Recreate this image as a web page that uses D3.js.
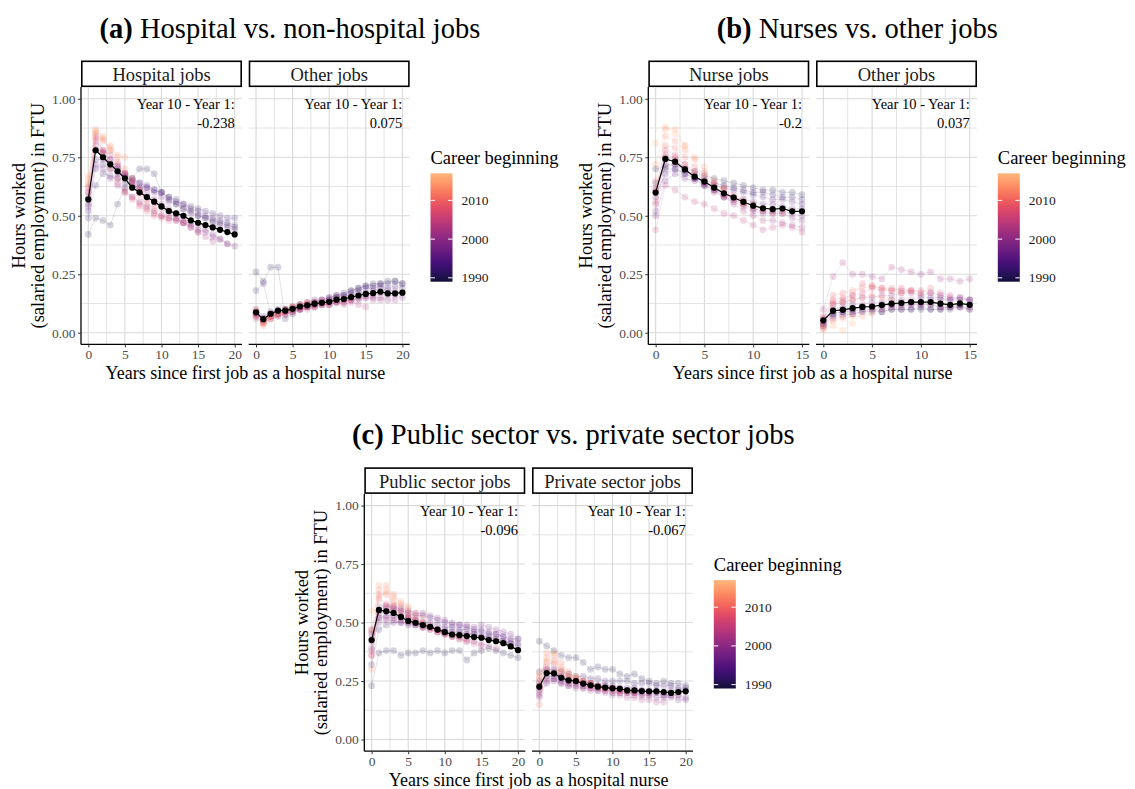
<!DOCTYPE html>
<html><head><meta charset="utf-8">
<script src="https://cdn.jsdelivr.net/npm/d3@7"></script>
<style>
body{margin:0;background:#fff}
svg{display:block}
text{font-family:"Liberation Serif","Times New Roman",serif}
</style>
</head><body><svg id="chart" width="1135" height="789"></svg>
<script>
// ---------------- DATA (hours worked in hundredths of FTU) ----------------
const cohortYears = [1990,1992,1994,1996,1998,2000,2002,2004,2006,2008,2010,2012,2014,2016];
const legendTicks = [1990,2000,2010];

// (a) Hospital vs non-hospital
const hospitalCohorts = [
 [42,49,48,46,55,62,66,70,70,68,60,57,55,53,52,50,49,48,47,46,45],
 [49,63,68,67,66,64,63,62,62,61,60,58,57,55,54,53,52,51,50,49,49],
 [52,70,72,70,68,67,65,64,63,61,60,58,56,55,53,52,50,49,48,47,46],
 [55,74,74,72,70,68,66,64,62,60,58,56,55,53,51,50,49,47,46,45,44],
 [54,72,70,66,63,60,58,56,54,52,50,49,48,47,46,44,43,41,40,38,37],
 [58,78,77,74,71,68,65,62,60,57,55,53,51,49,47,46,44,42,40,38],
 [60,80,77,74,71,67,64,61,58,56,54,52,49,47,45,43,41,39],
 [57,82,78,76,72,68,64,60,57,55,53,51,49,47,45,43],
 [62,84,78,72,66,61,58,55,53,51,50,49,48,47],
 [60,83,77,70,64,60,57,54,52,50,49,48],
 [63,85,82,78,73,68,63,59,55,53],
 [64,86,83,79,75,70,66,61],
 [66,87,84,80,76,75],
 [67,86,83,78]
];
const hospitalMean = [57,78,75,72,69,66,62,60,58,56,54,52,51,50,48,47,46,45,44,43,42];
const nonHospitalCohorts = [
 [26,22,28,28,6,8,10,11,12,13,14,15,16,18,19,20,21,21,22,22,21],
 [18,21,8,9,10,11,12,12,13,14,15,16,17,18,19,20,20,21,21,22,21],
 [10,7,9,10,10,11,12,13,14,14,15,16,16,17,18,19,19,20,19,20,19],
 [8,6,8,9,10,10,11,12,13,13,14,15,15,16,17,17,18,19,18,18,17],
 [9,6,7,8,9,10,11,12,12,13,13,14,14,15,15,16,16,17,16,16,15],
 [8,5,7,8,8,9,10,11,11,12,12,13,13,14,14,15,15,15,14,14],
 [7,5,7,8,9,10,10,11,12,12,13,13,14,14,15,15,14,14],
 [6,4,6,7,8,9,10,11,11,12,12,13,12,13,12,11],
 [7,4,6,7,8,9,10,10,11,12,12,13,13,14],
 [8,5,7,8,9,10,11,12,13,13,14,15],
 [9,5,7,9,10,11,12,13,13,14],
 [8,3,6,8,9,11,12,13],
 [9,4,7,9,10,11],
 [10,5,8,9]
];
const nonHospitalMean = [8.7,5.8,8.1,9.4,9.4,10.2,11.2,11.7,12.4,12.8,13.2,14.1,14.4,15.2,15.9,16.6,16.9,17.5,16.8,16.8,17.1];

// (b) Nurses vs other jobs
const nurseCohorts = [
 [70,71,72,70,69,67,66,65,64,63,62,61,61,60,60,59],
 [64,70,70,68,66,65,64,63,62,61,60,60,59,58,58,57],
 [58,68,70,68,66,64,63,62,61,60,59,58,57,57,56,55],
 [50,65,68,66,65,63,61,59,58,57,56,55,55,54,53,53],
 [52,72,72,69,66,63,61,58,57,55,53,52,52,52,51,50],
 [61,75,74,70,66,63,60,58,56,54,52,51,51,51,49,48],
 [55,74,73,70,67,64,61,58,55,52,50,48,48,47,46,45],
 [44,63,61,58,56,55,53,51,50,48,46,44,45,46,45,43],
 [62,78,76,72,68,65,62,59,57,55,53,52,51,51],
 [56,76,75,72,69,66,63,61,59,57,55,53],
 [60,80,79,75,71,68,64,61,58,55],
 [65,84,82,78,74,69,65,62],
 [72,87,87,80,75,71],
 [81,88,85,80]
];
const nurseMean = [59.9,74.3,73.1,69.8,66.7,64.6,62.0,59.6,57.8,55.9,54.3,53.2,52.8,53.1,51.9,51.9];
const otherNurseCohorts = [
 [4,8,9,9,10,10,9,10,10,10,10,10,10,10,11,10],
 [3,7,8,8,9,9,9,10,10,10,11,10,10,11,11,11],
 [5,9,10,10,11,11,12,12,12,12,12,12,11,11,12,12],
 [3,8,9,10,11,11,11,12,13,13,13,14,14,14,14,14],
 [4,10,11,12,12,13,13,14,14,14,15,15,15,14,15,14],
 [6,12,13,14,15,15,16,16,17,17,16,17,16,15,15,14],
 [10,24,30,25,25,24,23,28,27,26,25,26,23,23,22,23],
 [2,6,7,8,9,10,10,11,11,12,12,12,11,11,11,10],
 [7,13,14,16,17,19,18,18,19,18,18,17,17,16],
 [4,14,15,16,21,20,19,19,18,18,17,19],
 [6,16,17,18,19,20,19,18,17,18],
 [3,12,13,14,15,16,15,14],
 [2,5,6,7,7,8],
 [1,3,1,4]
];
const otherNurseMean = [5.3,9.4,9.8,10.5,11.0,11.2,11.8,12.4,12.7,13.1,13.1,13.1,12.4,11.9,12.5,11.9];

// (c) Public vs private sector
const publicCohorts = [
 [23,37,38,38,36,37,37,38,37,38,37,38,38,34,37,38,39,38,37,36,35],
 [32,47,49,50,50,49,49,48,48,47,47,46,46,45,45,44,44,43,42,41,40],
 [45,52,53,53,52,52,51,50,50,49,48,48,47,47,46,46,45,45,44,43,43],
 [39,54,55,56,55,54,53,53,52,51,50,49,49,48,47,47,46,45,44,42,41],
 [47,55,57,57,56,55,54,54,53,52,51,50,49,49,48,49,48,47,46,45,43],
 [42,50,51,51,50,50,49,49,48,47,46,46,45,45,45,44,43,43,42,41],
 [36,52,52,52,51,50,49,48,47,46,45,44,44,43,42,41,40,39],
 [43,57,57,56,54,52,51,50,48,46,45,44,43,42,41,40],
 [38,55,56,55,53,52,50,48,47,46,45,44,43,42],
 [46,60,58,57,55,53,51,49,48,47,46,45],
 [36,62,62,59,57,54,52,50,49,47],
 [30,64,66,62,58,56,54,52],
 [47,66,64,61,59,57],
 [55,61,63,58]
];
const publicMean = [42.5,55.4,54.8,54.1,52.4,50.7,49.9,48.9,48.2,47.0,45.9,44.9,44.6,44.2,43.8,43.5,42.5,42.0,41.2,39.8,38.2];
const privateCohorts = [
 [42,40,38,36,35,35,33,30,31,30,30,28,27,28,26,25,24,25,24,24,23],
 [29,30,30,29,28,27,27,26,26,25,25,25,25,24,24,24,23,23,23,22,22],
 [25,27,27,26,25,25,24,24,23,23,23,22,22,22,21,21,21,20,21,21,21],
 [19,24,25,24,23,23,22,22,21,21,20,20,20,20,19,19,18,18,18,17,17],
 [21,26,26,25,24,24,23,23,22,22,22,21,21,20,20,20,20,19,19,19,18],
 [22,29,28,27,26,25,25,24,23,23,22,22,21,21,21,20,20,19,19,19],
 [18,25,26,24,23,22,22,21,21,20,19,19,18,18,17,17,16,16],
 [24,30,29,27,25,25,24,23,22,22,21,21,20,20,19,19],
 [20,28,29,27,25,24,23,22,22,21,21,20,20,19],
 [27,33,32,29,27,26,25,24,23,22,22,21],
 [15,31,34,30,27,26,25,24,23,22],
 [23,37,37,33,29,27,25,24],
 [26,35,36,31,28,26],
 [28,34,33,29]
];
const privateMean = [22.6,28.4,28.3,26.4,25.3,25.0,23.9,23.2,22.6,22.2,21.9,21.7,21.0,21.0,20.7,20.6,20.6,20.3,19.9,20.3,20.6];

const yTicks = [0,0.25,0.5,0.75,1];
const yTickLabels = ["0.00","0.25","0.50","0.75","1.00"];

// ---------------- LAYOUT ----------------
const figures = [
 {ox:81, oy:60.5, bold:"(a)", title:" Hospital vs. non-hospital jobs", xMax:20, xTicks:[0,5,10,15,20],
  facets:[{label:"Hospital jobs", cohorts:hospitalCohorts, mean:hospitalMean, diff:"-0.238"},
          {label:"Other jobs", cohorts:nonHospitalCohorts, mean:nonHospitalMean, diff:"0.075"}]},
 {ox:648.3, oy:60.5, bold:"(b)", title:" Nurses vs. other jobs", xMax:15, xTicks:[0,5,10,15],
  facets:[{label:"Nurse jobs", cohorts:nurseCohorts, mean:nurseMean, diff:"-0.2"},
          {label:"Other jobs", cohorts:otherNurseCohorts, mean:otherNurseMean, diff:"0.037"}]},
 {ox:364.3, oy:467.3, bold:"(c)", title:" Public sector vs. private sector jobs", xMax:20, xTicks:[0,5,10,15,20],
  facets:[{label:"Public sector jobs", cohorts:publicCohorts, mean:publicMean, diff:"-0.096"},
          {label:"Private sector jobs", cohorts:privateCohorts, mean:privateMean, diff:"-0.067"}]}
];

const svg = d3.select("#chart");
const color = d3.scaleSequential(t => d3.interpolateMagma(0.1 + 0.75*t)).domain([1989, 2017]);

const FW = 161, GAP = 6.7, STRIP = 26.6, PH = 257.3;
const gridCol = "#d9d9d9";

// gradient for legend
const defs = svg.append("defs");
const grad = defs.append("linearGradient").attr("id","magmaGrad").attr("x1",0).attr("y1",1).attr("x2",0).attr("y2",0);
d3.range(0,1.0001,0.05).forEach(t => grad.append("stop").attr("offset",t).attr("stop-color", color(1989 + 28*t)));

figures.forEach(fig => {
  const g = svg.append("g").attr("transform",`translate(${fig.ox},${fig.oy})`);
  const x = d3.scaleLinear().domain([-fig.xMax*0.05, fig.xMax*1.05]).range([0, FW]);
  const y = d3.scaleLinear().domain([-0.05, 1.05]).range([PH, 0]);
  const xMinor = fig.xTicks.slice(0,-1).map(v => v + 2.5);
  const yMinor = [0.125,0.375,0.625,0.875];

  // title
  const tt = g.append("text").attr("x", 209).attr("y", -23).attr("text-anchor","middle")
    .attr("font-size", 28.5).attr("fill","#000");
  tt.append("tspan").attr("font-weight","bold").text(fig.bold);
  tt.append("tspan").text(fig.title);

  fig.facets.forEach((f, i) => {
    const fx = i * (FW + GAP);
    const fg = g.append("g").attr("transform", `translate(${fx},0)`);
    // strip
    fg.append("rect").attr("x",0.8).attr("y",0.8).attr("width",FW-1.6).attr("height",STRIP-1.6)
      .attr("fill","#fff").attr("stroke","#000").attr("stroke-width",1.6);
    fg.append("text").attr("x",FW/2).attr("y",STRIP/2+1).attr("text-anchor","middle")
      .attr("dominant-baseline","central").attr("font-size",18.5).attr("fill","#1a1a1a").text(f.label);

    const pg = fg.append("g").attr("transform",`translate(0,${STRIP})`);
    // grid
    pg.selectAll(".gyn").data(yMinor).join("line").attr("x1",0).attr("x2",FW)
      .attr("y1",d=>y(d)).attr("y2",d=>y(d)).attr("stroke",gridCol).attr("stroke-width",0.7);
    pg.selectAll(".gxn").data(xMinor).join("line").attr("y1",0).attr("y2",PH)
      .attr("x1",d=>x(d)).attr("x2",d=>x(d)).attr("stroke",gridCol).attr("stroke-width",0.7);
    pg.selectAll(".gy").data(yTicks).join("line").attr("x1",0).attr("x2",FW)
      .attr("y1",d=>y(d)).attr("y2",d=>y(d)).attr("stroke",gridCol).attr("stroke-width",1.1);
    pg.selectAll(".gx").data(fig.xTicks).join("line").attr("y1",0).attr("y2",PH)
      .attr("x1",d=>x(d)).attr("x2",d=>x(d)).attr("stroke",gridCol).attr("stroke-width",1.1);

    // cohorts
    const line = d3.line().x((d,j)=>x(j)).y(d=>y(d/100));
    f.cohorts.forEach((vals, ci) => {
      const v = vals.slice(0, fig.xMax+1);
      const c = color(cohortYears[ci]);
      pg.append("path").attr("d", line(v)).attr("fill","none").attr("stroke",c)
        .attr("stroke-opacity",0.18).attr("stroke-width",0.7);
      pg.selectAll(null).data(v).join("circle").attr("cx",(d,j)=>x(j)).attr("cy",d=>y(d/100))
        .attr("r",3.4).attr("fill",c).attr("fill-opacity",0.18);
    });
    // mean
    pg.append("path").attr("d", line(f.mean)).attr("fill","none").attr("stroke","#000").attr("stroke-width",1.2);
    pg.selectAll(null).data(f.mean).join("circle").attr("cx",(d,j)=>x(j)).attr("cy",d=>y(d/100))
      .attr("r",3.1).attr("fill","#000");

    // annotation
    pg.append("text").attr("x",x(fig.xMax)).attr("y",17).attr("text-anchor","end")
      .attr("dominant-baseline","central").attr("font-size",14.5).attr("fill","#000").text("Year 10 - Year 1:");
    pg.append("text").attr("x",x(fig.xMax)).attr("y",36).attr("text-anchor","end")
      .attr("dominant-baseline","central").attr("font-size",14.5).attr("fill","#000").text(f.diff);

    // x axis
    const xa = pg.append("g").attr("transform",`translate(0,${PH})`)
      .call(d3.axisBottom(x).tickValues(fig.xTicks).tickSize(3).tickSizeOuter(0).tickPadding(2));
    xa.select(".domain").attr("stroke","#000").attr("stroke-width",1.3).attr("d",`M0,0H${FW}`);
    xa.selectAll(".tick line").attr("stroke","#333");
    xa.selectAll(".tick text").attr("font-family","Liberation Serif").attr("font-size",13.5).attr("fill","#4d4d4d");

    if (i === 0) {
      const ya = pg.append("g").call(d3.axisLeft(y).tickValues(yTicks).tickFormat((d,k)=>yTickLabels[k])
        .tickSize(3).tickSizeOuter(0).tickPadding(2.5));
      ya.select(".domain").attr("stroke","#000").attr("stroke-width",1.3).attr("d",`M0,0V${PH}`);
      ya.selectAll(".tick line").attr("stroke","#333");
      ya.selectAll(".tick text").attr("font-family","Liberation Serif").attr("font-size",13.5).attr("fill","#4d4d4d");
    }
  });

  // axis titles
  const totalW = 2*FW + GAP;
  g.append("text").attr("x", totalW/2).attr("y", STRIP+PH+28.5).attr("text-anchor","middle")
    .attr("dominant-baseline","central").attr("font-size",18).attr("fill","#000")
    .text("Years since first job as a hospital nurse");
  const cy = STRIP + PH/2;
  g.append("text").attr("transform",`translate(-62.5,${cy}) rotate(-90)`).attr("text-anchor","middle")
    .attr("dominant-baseline","central").attr("font-size",18.5).attr("fill","#000").text("Hours worked");
  g.append("text").attr("transform",`translate(-43,${cy}) rotate(-90)`).attr("text-anchor","middle")
    .attr("dominant-baseline","central").attr("font-size",18.5).attr("fill","#000").text("(salaried employment) in FTU");

  // legend
  const lg = g.append("g").attr("transform",`translate(349.5,0)`);
  lg.append("text").attr("x",0).attr("y",97.5).attr("dominant-baseline","central")
    .attr("font-size",18.5).attr("fill","#000").text("Career beginning");
  const barTop = 112.8, barH = 108.4, barW = 22;
  const ly = d3.scaleLinear().domain([1989,2017]).range([barTop+barH, barTop]);
  lg.append("rect").attr("x",0).attr("y",barTop).attr("width",barW).attr("height",barH).attr("fill","url(#magmaGrad)");
  legendTicks.forEach(t => {
    lg.append("line").attr("x1",0).attr("x2",4.4).attr("y1",ly(t)).attr("y2",ly(t)).attr("stroke","#fff").attr("stroke-width",1);
    lg.append("line").attr("x1",barW-4.4).attr("x2",barW).attr("y1",ly(t)).attr("y2",ly(t)).attr("stroke","#fff").attr("stroke-width",1);
    lg.append("text").attr("x",barW+9).attr("y",ly(t)).attr("dominant-baseline","central")
      .attr("font-size",13.5).attr("fill","#1a1a1a").text(t);
  });
});
</script>
</body></html>
